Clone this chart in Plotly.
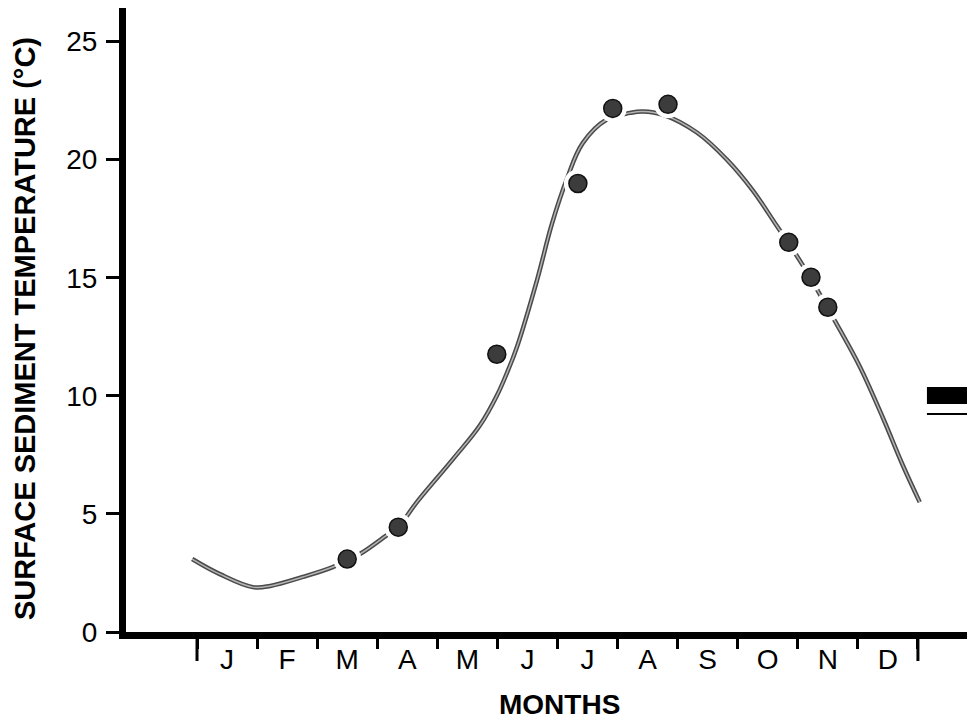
import plotly.graph_objects as go

# ---- data (month index: 0 = 1 January, 12 = 31 December) ----
month_labels = ["J", "F", "M", "A", "M", "J", "J", "A", "S", "O", "N", "D"]
month_centers = [0.5, 1.5, 2.5, 3.5, 4.5, 5.5, 6.5, 7.5, 8.5, 9.5, 10.5, 11.5]
month_bounds = [0, 1, 2, 3, 4, 5, 6, 7, 8, 9, 10, 11, 12]
y_ticks = [0, 5, 10, 15, 20, 25]

obs_month = [2.50, 3.35, 4.99, 6.34, 6.92, 7.84, 9.85, 10.22, 10.50]
obs_temp = [3.09, 4.44, 11.76, 18.99, 22.17, 22.34, 16.50, 15.02, 13.75]

curve_month = [-0.08, 0.38, 0.93, 1.22, 1.76, 2.26, 2.50, 2.71, 3.16, 3.35, 3.66,
               4.26, 4.71, 4.99, 5.18, 5.33, 5.66, 5.91, 6.16, 6.42, 6.82, 7.21,
               7.42, 7.76, 8.32, 8.82, 9.25, 9.65, 9.85, 10.09, 10.22, 10.40,
               10.50, 10.70, 11.04, 11.42, 11.75, 12.03]
curve_temp = [3.09, 2.45, 1.90, 1.95, 2.33, 2.75, 3.05, 3.30, 4.10, 4.45, 5.50,
              7.32, 8.75, 10.0, 11.1, 12.1, 14.9, 17.3, 19.2, 20.7, 21.7, 21.98,
              22.04, 21.9, 21.15, 20.0, 18.7, 17.2, 16.45, 15.5, 14.95, 14.15,
              13.7, 12.8, 11.2, 9.05, 7.05, 5.5]

# fragments of the neighbouring figure visible at the right edge
edge_bar_month = [12.15, 13.5]
edge_bar_temp = [9.65, 10.37]
edge_line_temp = 9.23

X_RANGE = [-1.182, 12.95]
Y_RANGE = [0, 26.42]

BOLD = dict(family="Liberation Sans, Arial, sans-serif", size=29, color="black", weight="bold")
BOLD_M = dict(family="Liberation Sans, Arial, sans-serif", size=28, color="black", weight="bold")
REG = dict(family="Liberation Sans, Arial, sans-serif", size=28, color="black")

fig = go.Figure()

# smooth fitted curve (dark rim + light core to mimic the printed double line)
fig.add_trace(go.Scatter(x=curve_month, y=curve_temp, mode="lines",
                         line=dict(color="#4a4a4a", width=4.5, shape="spline", smoothing=1.1),
                         hoverinfo="skip", showlegend=False))
fig.add_trace(go.Scatter(x=curve_month, y=curve_temp, mode="lines",
                         line=dict(color="#b5b5b5", width=1.5, shape="spline", smoothing=1.1),
                         hoverinfo="skip", showlegend=False))
# white halo around dots (gaps in the curve)
fig.add_trace(go.Scatter(x=obs_month, y=obs_temp, mode="markers",
                         marker=dict(size=28, color="white"),
                         hoverinfo="skip", showlegend=False))
# observations
fig.add_trace(go.Scatter(x=obs_month, y=obs_temp, mode="markers",
                         marker=dict(size=18, color="#3c3c3c",
                                     line=dict(color="#111111", width=1.5)),
                         showlegend=False))

shapes = []
# long end ticks at 1 Jan and 31 Dec
for xv in (month_bounds[0], month_bounds[-1]):
    shapes.append(dict(type="line", xref="x", yref="paper", x0=xv, x1=xv,
                       ysizemode="pixel", yanchor=0, y0=0, y1=-29,
                       line=dict(color="black", width=3)))
shapes.append(dict(type="rect", xref="x", yref="y",
                   x0=edge_bar_month[0], x1=edge_bar_month[1],
                   y0=edge_bar_temp[0], y1=edge_bar_temp[1],
                   fillcolor="black", line=dict(width=0)))
shapes.append(dict(type="line", xref="x", yref="y",
                   x0=edge_bar_month[0], x1=edge_bar_month[1],
                   y0=edge_line_temp, y1=edge_line_temp,
                   line=dict(color="black", width=2)))

fig.update_layout(
    width=967, height=720,
    margin=dict(l=118, r=0, t=0, b=96, autoexpand=False),
    paper_bgcolor="white", plot_bgcolor="white",
    showlegend=False,
    shapes=shapes,
    xaxis=dict(range=X_RANGE, showgrid=False, zeroline=False,
               showline=True, linecolor="black", linewidth=7,
               tickmode="array", tickvals=month_centers, ticktext=month_labels,
               ticks="outside", ticklen=8, tickcolor="rgba(0,0,0,0)",
               ticklabelstandoff=-12,
               tickfont=REG,
               minor=dict(tickmode="array", tickvals=month_bounds, ticks="outside",
                          ticklen=10, tickwidth=3, tickcolor="black", showgrid=False)),
    yaxis=dict(range=Y_RANGE, showgrid=False, zeroline=False,
               showline=True, linecolor="black", linewidth=7,
               tickmode="array", tickvals=y_ticks,
               ticks="outside", ticklen=13, tickwidth=3, tickcolor="black",
               ticklabelstandoff=3,
               tickfont=REG),
    annotations=[
        dict(text="SURFACE SEDIMENT TEMPERATURE (°C)", textangle=-90,
             xref="paper", yref="paper", x=0, y=0.4856,
             xanchor="center", yanchor="middle", xshift=-101,
             showarrow=False, font=BOLD),
        dict(text="MONTHS", xref="paper", yref="paper",
             x=0.511, y=0, xanchor="center", yanchor="middle",
             yshift=-72, showarrow=False, font=BOLD_M),
    ],
)

fig.write_html("out.html")
